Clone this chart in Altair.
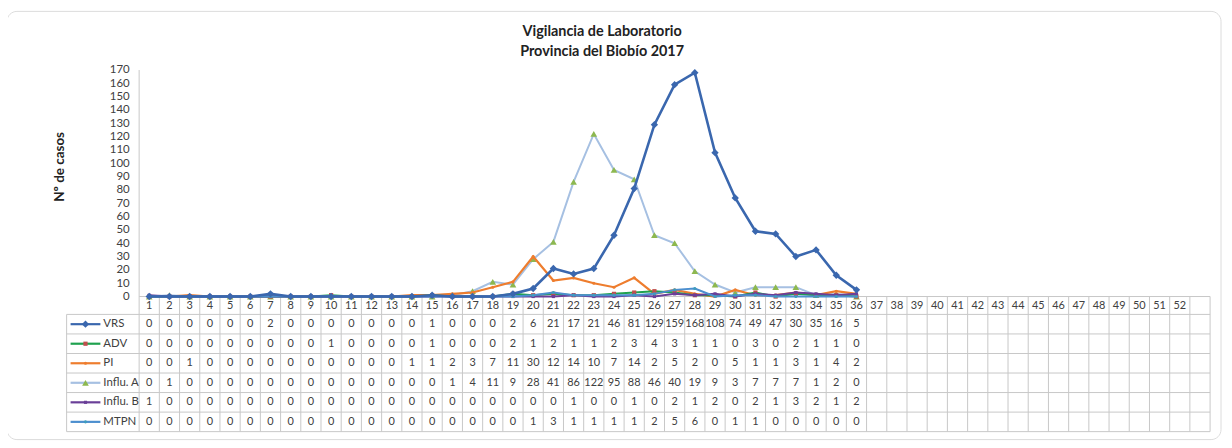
import altair as alt
import pandas as pd

# ---------------- data ----------------
weeks = list(range(1, 53))
series = ["VRS", "ADV", "PI", "Influ. A", "Influ. B", "MTPN"]
vrs = [0, 0, 0, 0, 0, 0, 2, 0, 0, 0, 0, 0, 0, 0, 1, 0, 0, 0, 2, 6, 21, 17, 21, 46, 81, 129, 159, 168, 108, 74, 49, 47, 30, 35, 16, 5]
adv = [0, 0, 0, 0, 0, 0, 0, 0, 0, 1, 0, 0, 0, 0, 1, 0, 0, 0, 2, 1, 2, 1, 1, 2, 3, 4, 3, 1, 1, 0, 3, 0, 2, 1, 1, 0]
pi = [0, 0, 1, 0, 0, 0, 0, 0, 0, 0, 0, 0, 0, 1, 1, 2, 3, 7, 11, 30, 12, 14, 10, 7, 14, 2, 5, 2, 0, 5, 1, 1, 3, 1, 4, 2]
influ_a = [0, 1, 0, 0, 0, 0, 0, 0, 0, 0, 0, 0, 0, 0, 0, 1, 4, 11, 9, 28, 41, 86, 122, 95, 88, 46, 40, 19, 9, 3, 7, 7, 7, 1, 2, 0]
influ_b = [1, 0, 0, 0, 0, 0, 0, 0, 0, 0, 0, 0, 0, 0, 0, 0, 0, 0, 0, 0, 0, 1, 0, 0, 1, 0, 2, 1, 2, 0, 2, 1, 3, 2, 1, 2]
mtpn = [0, 0, 0, 0, 0, 0, 0, 0, 0, 0, 0, 0, 0, 0, 0, 0, 0, 0, 0, 1, 3, 1, 1, 1, 1, 2, 5, 6, 0, 1, 1, 0, 0, 0, 0, 0]
y_ticks = list(range(0, 171, 10))
title_lines = ["Vigilancia de Laboratorio", "Provincia del Biobío 2017"]
y_title = "Nº de casos"

values = {"VRS": vrs, "ADV": adv, "PI": pi, "Influ. A": influ_a, "Influ. B": influ_b, "MTPN": mtpn}

# ---------------- styles ----------------
line_colors = ["#3A67AE", "#1FA14F", "#EE7D2E", "#A6C0E2", "#6A3F98", "#4C8FCF"]
marker_colors = ["#3A67AE", "#C0504D", "#EE7D2E", "#8DB84F", "#6A3F98", "#3E9CBE"]
marker_shapes = ["diamond", "square", "circle", "triangle-up", "square", "circle"]
marker_sizes = [55, 18, 10, 45, 10, 10]
line_widths = [2.6, 2, 2.2, 2, 2, 2]
draw_order = ["Influ. A", "PI", "ADV", "Influ. B", "MTPN", "VRS"]
FONT = "Lato"
GRID = "#C8C8C8"
TXT = "#404040"

# geometry (page pixels -> data units)
PLOT_W = 1078
X0, X1 = 0.5, 53.5
PX_X = PLOT_W / (X1 - X0)
TOP_PX, ZERO_PX = 69, 297
PX_Y = (ZERO_PX - TOP_PX) / 170.0
BOTTOM_PX = 433
HEADER_BOTTOM_PX = 315
ROW_H = (BOTTOM_PX - HEADER_BOTTOM_PX) / 6.0
LEFT_PX = 140


def uy(px):
    return (ZERO_PX - px) / PX_Y


def ux(px):
    return X0 + (px - LEFT_PX) / PX_X


Y_MIN = uy(BOTTOM_PX)
PLOT_H = BOTTOM_PX - TOP_PX

# ---------------- tables ----------------
rows = []
for s in series:
    for w, v in zip(weeks, values[s]):
        rows.append({"week": w, "series": s, "value": v})
lines_df = pd.DataFrame(rows)

row_center = {s: uy(HEADER_BOTTOM_PX + ROW_H * (i + 0.5)) for i, s in enumerate(series)}
table_df = lines_df.assign(ry=lines_df["series"].map(row_center), txt=lines_df["value"].astype(str))
header_df = pd.DataFrame({"week": weeks, "ry": uy((ZERO_PX + HEADER_BOTTOM_PX) / 2 + 0.5), "txt": [str(w) for w in weeks]})

vlines = pd.DataFrame({"x": [k + 0.5 for k in range(1, 54)], "y": 0.0, "y2": Y_MIN})
vlines = pd.concat([vlines,
                    pd.DataFrame({"x": [X0], "y": [170.0], "y2": [Y_MIN]}),
                    pd.DataFrame({"x": [ux(67)], "y": [uy(HEADER_BOTTOM_PX)], "y2": [Y_MIN]})])
hl_y = [uy(HEADER_BOTTOM_PX + ROW_H * i) for i in range(7)]
hlines = pd.DataFrame({"y": hl_y, "x": ux(67), "x2": X1})
hlines = pd.concat([hlines, pd.DataFrame({"y": [0.0], "x": [X0], "x2": [X1]})])

leg = pd.DataFrame({"series": series, "ry": [row_center[s] for s in series],
                    "lx": ux(71), "lx2": ux(101), "mx": ux(86), "tx": ux(104),
                    "mcolor": marker_colors, "shape": marker_shapes, "size": marker_sizes})

title_df = pd.DataFrame({"t": title_lines, "line": [0, 1]})

x_scale = alt.Scale(domain=[X0, X1], nice=False, zero=False)
ys_scale = alt.Scale(domain=[Y_MIN, 170], nice=False, zero=False)
y_axis = alt.Axis(values=y_ticks, domain=False, ticks=False, grid=False,
                  labelFont=FONT, labelFontSize=11.5, labelColor=TXT, labelPadding=10,
                  title=y_title, titleFont=FONT, titleFontSize=13.5, titleFontWeight="bold",
                  titleColor="#222222", titleX=-80, titleY=97, titleAngle=270,
                  titleBaseline="middle", titleAlign="center")


def X(field):
    return alt.X(field, scale=x_scale, axis=None)


def Y(field):
    return alt.Y(field, scale=ys_scale, axis=y_axis)


color = alt.Color("series:N", scale=alt.Scale(domain=series, range=line_colors), legend=None)

vgrid = alt.Chart(vlines).mark_rule(color=GRID, strokeWidth=1).encode(
    x=X("x:Q"), y=Y("y:Q"), y2="y2:Q")
hgrid = alt.Chart(hlines).mark_rule(color=GRID, strokeWidth=1).encode(
    x=X("x:Q"), x2="x2:Q", y=Y("y:Q"))

line_layers = []
for s in draw_order:
    i = series.index(s)
    sub = lines_df[lines_df["series"] == s]
    line_layers.append(alt.Chart(sub).mark_line(color=line_colors[i], strokeWidth=line_widths[i]).encode(
        x=X("week:Q"), y=Y("value:Q")))
    line_layers.append(alt.Chart(sub).mark_point(filled=True, shape=marker_shapes[i], size=marker_sizes[i],
                                                 color=marker_colors[i], opacity=1).encode(
        x=X("week:Q"), y=Y("value:Q")))

table_text = alt.Chart(table_df).mark_text(font=FONT, fontSize=11, color=TXT, baseline="middle").encode(
    x=X("week:Q"), y=Y("ry:Q"), text="txt:N")
header_text = alt.Chart(header_df).mark_text(font=FONT, fontSize=11, color=TXT, baseline="middle").encode(
    x=X("week:Q"), y=Y("ry:Q"), text="txt:N")

leg_lines = alt.Chart(leg).mark_rule(strokeWidth=2.2).encode(
    x=X("lx:Q"), x2="lx2:Q", y=Y("ry:Q"), color=color)
leg_marks = alt.Chart(leg).mark_point(filled=True, opacity=1).encode(
    x=X("mx:Q"), y=Y("ry:Q"),
    color=alt.Color("mcolor:N", scale=None), shape=alt.Shape("shape:N", scale=None),
    size=alt.Size("size:Q", scale=None))
leg_text = alt.Chart(leg).mark_text(font=FONT, fontSize=11.5, color=TXT, align="left", baseline="middle").encode(
    x=X("tx:Q"), y=Y("ry:Q"), text="series:N")

# title (two centred bold lines)
title_l1 = alt.Chart(title_df[title_df["line"] == 0]).mark_text(
    font=FONT, fontSize=14.5, fontWeight="bold", color="#222222", align="center", baseline="middle").encode(
    x=alt.value(606 - LEFT_PX), y=alt.value(31 - TOP_PX), text="t:N")
title_l2 = alt.Chart(title_df[title_df["line"] == 1]).mark_text(
    font=FONT, fontSize=14.5, fontWeight="bold", color="#222222", align="center", baseline="middle").encode(
    x=alt.value(606 - LEFT_PX), y=alt.value(51 - TOP_PX), text="t:N")

frame = alt.Chart(pd.DataFrame({"f": [0]})).mark_rect(fill="transparent", stroke="#DCDCDC", strokeWidth=1,
                                                      cornerRadius=10).encode(
    x=alt.value(7 - LEFT_PX), x2=alt.value(1229 - LEFT_PX), y=alt.value(10 - TOP_PX), y2=alt.value(441 - TOP_PX))

chart = alt.layer(vgrid, hgrid, *line_layers, table_text, header_text,
                  leg_lines, leg_marks, leg_text, title_l1, title_l2, frame).properties(
    width=PLOT_W, height=PLOT_H,
    autosize=alt.AutoSizeParams(type="none"),
    padding={"left": LEFT_PX - 8, "top": TOP_PX - 8, "right": 14, "bottom": 8},
).configure(background="white", view=alt.ViewConfig(stroke=None))

chart.save("out.html", embed_options={"renderer": "svg", "actions": False})
